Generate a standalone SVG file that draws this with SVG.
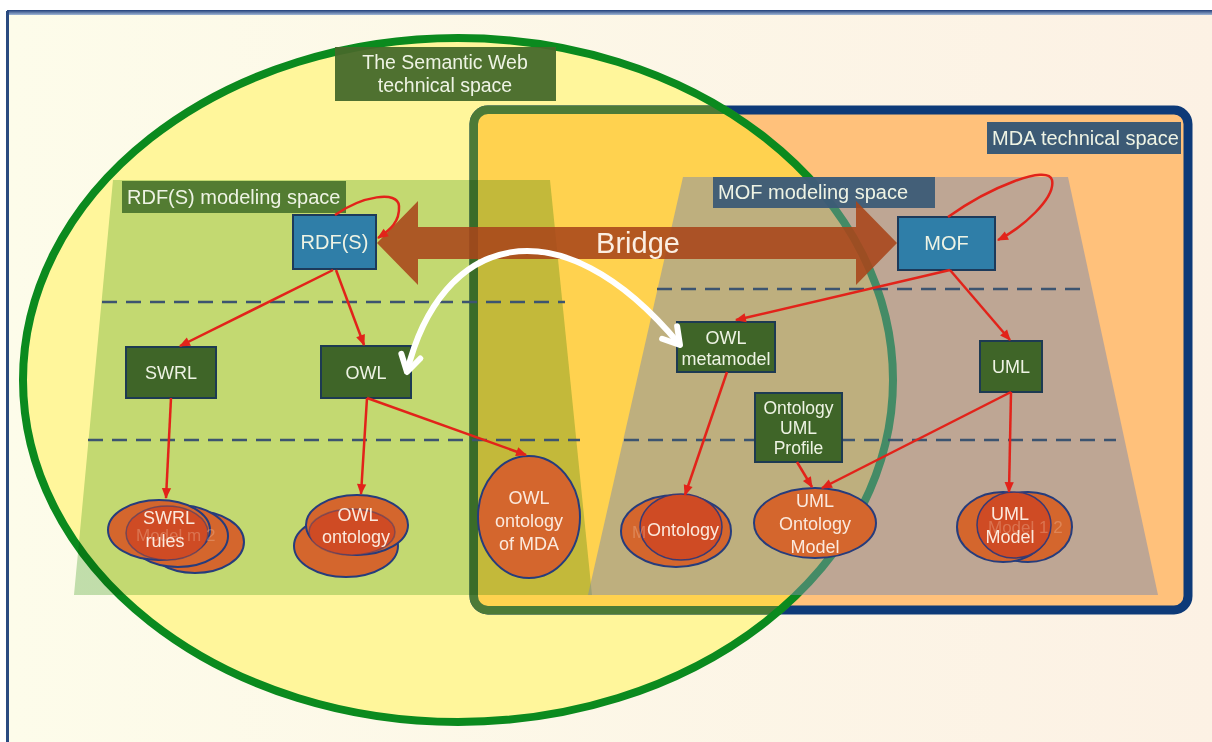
<svg xmlns="http://www.w3.org/2000/svg" width="1212" height="742" viewBox="0 0 1212 742">
  <defs>
    <linearGradient id="bg" x1="0" y1="0" x2="1" y2="0">
      <stop offset="0" stop-color="#fdfcea"/>
      <stop offset="1" stop-color="#fcf1e4"/>
    </linearGradient>
    <linearGradient id="topbar" x1="0" y1="0" x2="0" y2="1">
      <stop offset="0" stop-color="#1f3d78"/>
      <stop offset="1" stop-color="#9fb6d6"/>
    </linearGradient>
    <clipPath id="swClip">
      <ellipse cx="458" cy="380" rx="435" ry="342"/>
    </clipPath>
    <clipPath id="swClipWide">
      <ellipse cx="458" cy="380" rx="439" ry="346"/>
    </clipPath>
    <marker id="ah" viewBox="0 0 10 10" refX="9" refY="5" markerWidth="13" markerHeight="11" markerUnits="userSpaceOnUse" orient="auto">
      <path d="M0,0.8 L10,5 L0,9.2 z" fill="#e2231a"/>
    </marker>
    <marker id="wh" viewBox="0 0 24 24" refX="20" refY="12" markerWidth="26" markerHeight="26" markerUnits="userSpaceOnUse" orient="auto-start-reverse">
      <path d="M5,3 L20,12 L5,21" fill="none" stroke="#ffffff" stroke-width="5.5" stroke-linecap="round" stroke-linejoin="round"/>
    </marker>
    <style>
      .lbl { font-family: "Liberation Sans", Arial, sans-serif; fill: #eef3e4; }
      .t20 { font-size: 20px; }
      .t19 { font-size: 19.5px; }
      .t18 { font-size: 18px; }
      .t17 { font-size: 17.5px; }
      .mid { text-anchor: middle; }
      .gbox { fill: #3f6528; stroke: #1d3a52; stroke-width: 2; }
      .bbox { fill: #2f7ea8; stroke: #1d3a5a; stroke-width: 2; }
      .ov { fill: #d4662d; stroke: #263c7c; stroke-width: 2; }
      .ovf { fill: #cf4b24; stroke: #3b3a72; stroke-width: 1.5; }
      .otx { font-family: "Liberation Sans", Arial, sans-serif; font-size: 18px; fill: #fbe9dd; text-anchor: middle; }
      .ghost { font-family: "Liberation Sans", Arial, sans-serif; font-size: 17px; fill: #f0c0a4; fill-opacity: 0.35; }
      .dash { fill: none; stroke: #3c5470; stroke-width: 2.5; stroke-dasharray: 15 9; }
      .rl { fill: none; stroke: #e2231a; stroke-width: 2.5; marker-end: url(#ah); }
    </style>
  </defs>

  <!-- page -->
  <rect x="0" y="0" width="1212" height="742" fill="#ffffff"/>
  <rect x="8" y="11" width="1210" height="740" fill="url(#bg)"/>
  <rect x="7" y="10" width="1210" height="5" fill="url(#topbar)"/>
  <rect x="6" y="11" width="3" height="731" fill="#2a4a80"/>

  <!-- Semantic Web technical space (fill) -->
  <ellipse cx="458" cy="380" rx="435" ry="342" fill="#fff69b"/>

  <!-- MDA technical space -->
  <g id="mda-space">
    <rect x="474" y="110" width="714" height="500" rx="14" fill="#ffc17b" stroke="#0d3a78" stroke-width="9"/>
    <g clip-path="url(#swClipWide)">
      <rect x="474" y="110" width="714" height="500" rx="14" fill="none" stroke="#4c7a37" stroke-width="9"/>
    </g>
    <g clip-path="url(#swClip)">
      <rect x="478" y="114" width="706" height="492" rx="10" fill="#ffd24f"/>
    </g>
  </g>

  <!-- Semantic Web outline -->
  <ellipse cx="458" cy="380" rx="435" ry="342" fill="none" stroke="#0b8a1e" stroke-width="8"/>

  <!-- modeling spaces -->
  <polygon id="rdfs-space" points="113,180 550,180 592,595 74,595" fill="#c3e1ba" style="mix-blend-mode:multiply"/>
  <polygon id="mof-space" points="683,177 1068,177 1158,595 588,595" fill="#7d8cae" fill-opacity="0.5"/>

  <!-- level separators -->
  <g id="levels">
    <line class="dash" x1="102" y1="302" x2="565" y2="302"/>
    <line class="dash" x1="88" y1="440" x2="580" y2="440"/>
    <line class="dash" x1="657" y1="289" x2="1080" y2="289"/>
    <line class="dash" x1="624" y1="440" x2="1116" y2="440"/>
  </g>

  <!-- space labels -->
  <g id="sw-label">
    <rect x="335" y="47" width="221" height="54" fill="#46692a" fill-opacity="0.95"/>
    <text class="lbl t19 mid" x="445" y="69">The Semantic Web</text>
    <text class="lbl t19 mid" x="445" y="92">technical space</text>
  </g>
  <g id="rdfs-label">
    <rect x="122" y="181" width="224" height="32" fill="#4d772e" fill-opacity="0.95"/>
    <text class="lbl t20" x="127" y="204">RDF(S) modeling space</text>
  </g>
  <g id="mof-label">
    <rect x="713" y="177" width="222" height="31" fill="#3c5b76" fill-opacity="0.95"/>
    <text class="lbl t20" x="718" y="199">MOF modeling space</text>
  </g>
  <g id="mda-label">
    <rect x="987" y="122" width="194" height="32" fill="#3c5a75"/>
    <text class="lbl t20" x="992" y="145">MDA technical space</text>
  </g>

  <!-- Bridge -->
  <g id="bridge">
    <polygon points="377,243 418,201 418,227 856,227 856,201 897,243 856,285 856,259 418,259 418,285" fill="#a9461a" fill-opacity="0.88"/>
    <text x="638" y="253" text-anchor="middle" font-family="Liberation Sans, Arial, sans-serif" font-size="29" fill="#fbeee2">Bridge</text>
  </g>

  <!-- nodes -->
  <g id="node-rdfs">
    <rect class="bbox" x="293" y="215" width="83" height="54"/>
    <text class="lbl t20 mid" x="334.5" y="249">RDF(S)</text>
  </g>
  <g id="node-swrl">
    <rect class="gbox" x="126" y="347" width="90" height="51"/>
    <text class="lbl t18 mid" x="171" y="379">SWRL</text>
  </g>
  <g id="node-owl">
    <rect class="gbox" x="321" y="346" width="90" height="52"/>
    <text class="lbl t18 mid" x="366" y="379">OWL</text>
  </g>
  <g id="node-mof">
    <rect class="bbox" x="898" y="217" width="97" height="53"/>
    <text class="lbl t20 mid" x="946.5" y="250">MOF</text>
  </g>
  <g id="node-owl-metamodel">
    <rect class="gbox" x="677" y="322" width="98" height="50"/>
    <text class="lbl t18 mid" x="726" y="344">OWL</text>
    <text class="lbl t18 mid" x="726" y="365">metamodel</text>
  </g>
  <g id="node-uml">
    <rect class="gbox" x="980" y="341" width="62" height="51"/>
    <text class="lbl t18 mid" x="1011" y="373">UML</text>
  </g>
  <g id="node-ontology-uml-profile">
    <rect class="gbox" x="755" y="393" width="87" height="69"/>
    <text class="lbl t17 mid" x="798.5" y="414">Ontology</text>
    <text class="lbl t17 mid" x="798.5" y="434">UML</text>
    <text class="lbl t17 mid" x="798.5" y="454">Profile</text>
  </g>

  <!-- models -->
  <g id="node-swrl-rules">
    <ellipse class="ov" cx="195" cy="542" rx="49" ry="31"/>
    <ellipse class="ov" cx="178" cy="536" rx="50" ry="31"/>
    <ellipse class="ov" cx="159" cy="530" rx="51" ry="30"/>
    <ellipse class="ovf" cx="167" cy="533" rx="41" ry="27" stroke-opacity="0.6"/>
    <text class="ghost" x="136" y="541">Model m 2</text>
    <text class="otx" x="169" y="524">SWRL</text>
    <text class="otx" x="165" y="547">rules</text>
  </g>
  <g id="node-owl-ontology">
    <ellipse class="ov" cx="346" cy="546" rx="52" ry="31"/>
    <ellipse class="ov" cx="357" cy="525" rx="51" ry="30"/>
    <ellipse class="ovf" cx="352" cy="532" rx="43" ry="23" stroke-opacity="0.5"/>
    <text class="otx" x="358" y="521">OWL</text>
    <text class="otx" x="356" y="543">ontology</text>
  </g>
  <g id="node-owl-ontology-mda">
    <ellipse class="ov" cx="529" cy="517" rx="51" ry="61"/>
    <text class="otx" x="529" y="504">OWL</text>
    <text class="otx" x="529" y="527">ontology</text>
    <text class="otx" x="529" y="550">of MDA</text>
  </g>
  <g id="node-ontology">
    <ellipse class="ov" cx="676" cy="531" rx="55" ry="36"/>
    <ellipse class="ovf" cx="681" cy="527" rx="41" ry="33"/>
    <text class="ghost" x="632" y="538">M</text>
    <text class="otx" x="683" y="536">Ontology</text>
  </g>
  <g id="node-uml-ontology-model">
    <ellipse class="ov" cx="815" cy="523" rx="61" ry="35"/>
    <text class="otx" x="815" y="507">UML</text>
    <text class="otx" x="815" y="530">Ontology</text>
    <text class="otx" x="815" y="553">Model</text>
  </g>
  <g id="node-uml-model">
    <ellipse class="ov" cx="1028" cy="527" rx="44" ry="35"/>
    <ellipse class="ov" cx="1003" cy="527" rx="46" ry="35"/>
    <ellipse class="ovf" cx="1014" cy="525" rx="37" ry="33"/>
    <text class="ghost" x="988" y="533">Model 1 2</text>
    <text class="otx" x="1010" y="520">UML</text>
    <text class="otx" x="1010" y="543">Model</text>
  </g>

  <!-- connectors -->
  <g id="connectors">
    <path class="rl" d="M335,215 C362,196 398,190 399,206 C400,222 390,230 378,238"/>
    <path class="rl" d="M333,270 L180,346"/>
    <path class="rl" d="M336,270 L364,345"/>
    <path class="rl" d="M171,398 L166,498"/>
    <path class="rl" d="M367,398 L361,494"/>
    <path class="rl" d="M367,398 L526,455"/>
    <path class="rl" d="M948,217 C990,187 1048,164 1052,180 C1056,198 1022,228 998,240"/>
    <path class="rl" d="M950,270 L736,320"/>
    <path class="rl" d="M950,270 L1010,340"/>
    <path class="rl" d="M727,372 L685,495"/>
    <path class="rl" d="M797,462 L812,487"/>
    <path class="rl" d="M1011,392 L822,488"/>
    <path class="rl" d="M1011,392 L1009,492"/>
    <path d="M407,372 C440,236 558,198 680,345" fill="none" stroke="#ffffff" stroke-width="6" marker-start="url(#wh)" marker-end="url(#wh)"/>
  </g>
</svg>
